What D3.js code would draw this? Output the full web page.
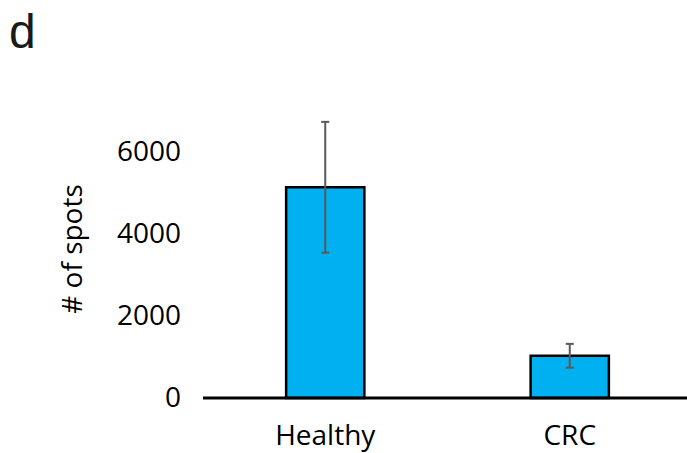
<!DOCTYPE html>
<html>
<head>
<meta charset="utf-8">
<script src="https://cdn.jsdelivr.net/npm/d3@7"></script>
<style>
  body { margin: 0; background: #fff; }
  text { font-family: "Open Sans", sans-serif; }
</style>
</head>
<body>
<svg id="chart" width="687" height="453"></svg>
<script>
// data
const categories = ["Healthy", "CRC"];
const values = [5140, 1030];
const errors = [1595, 290];
const yTicks = [0, 2000, 4000, 6000];

const svg = d3.select("#chart");

const x = d3.scaleBand()
            .domain(categories)
            .range([203, 692])
            .paddingInner(0.68)
            .paddingOuter(0.34);
const y = d3.scaleLinear()
            .domain([0, 7000])
            .range([398, 111]);

const data = categories.map((c, i) => ({cat: c, value: values[i], err: errors[i]}));

// panel letter
svg.append("text")
    .text("d")
    .attr("x", 9)
    .attr("y", 48)
    .style("font-family", "'Liberation Sans', Arial, sans-serif")
    .style("font-size", "48px")
    .style("fill", "#1a1a1a");

// y axis (labels only)
const yAxis = svg.append("g")
    .attr("transform", "translate(203,0)")
    .call(d3.axisLeft(y).tickValues(yTicks).tickSize(0).tickPadding(22).tickFormat(d3.format("d")));
yAxis.select(".domain").remove();
yAxis.selectAll("text")
    .style("font-family", "'Open Sans', sans-serif")
    .style("font-size", "28px")
    .style("fill", "#000");

svg.append("text")
    .text("# of spots")
    .attr("transform", "translate(82,249) rotate(-90)")
    .attr("text-anchor", "middle")
    .style("font-size", "28px")
    .style("fill", "#000");

// bars
svg.selectAll("rect.bar").data(data)
    .join("rect")
    .attr("class", "bar")
    .attr("x", d => x(d.cat))
    .attr("width", x.bandwidth())
    .attr("y", d => y(d.value))
    .attr("height", d => y(0) - y(d.value))
    .style("fill", "#00b0f0")
    .style("stroke", "#000")
    .style("stroke-width", 2.5);

// error bars
const eb = svg.selectAll("g.err").data(data)
    .join("g")
    .attr("class", "err")
    .attr("transform", d => `translate(${x(d.cat) + x.bandwidth() / 2},0)`);
eb.append("line")
    .attr("y1", d => y(d.value + d.err))
    .attr("y2", d => y(d.value - d.err));
eb.append("line")
    .attr("x1", -4).attr("x2", 4)
    .attr("y1", d => y(d.value + d.err))
    .attr("y2", d => y(d.value + d.err));
eb.append("line")
    .attr("x1", -4).attr("x2", 4)
    .attr("y1", d => y(d.value - d.err))
    .attr("y2", d => y(d.value - d.err));
eb.selectAll("line")
    .style("stroke", "#595959")
    .style("stroke-width", 2);

// x axis line
svg.append("line")
    .attr("x1", 203).attr("x2", 692)
    .attr("y1", y(0)).attr("y2", y(0))
    .style("stroke", "#000")
    .style("stroke-width", 3);

// category labels
svg.selectAll("text.cat").data(categories)
    .join("text")
    .attr("class", "cat")
    .text(d => d)
    .attr("x", d => x(d) + x.bandwidth() / 2)
    .attr("y", 445)
    .attr("text-anchor", "middle")
    .style("font-size", "28px")
    .style("fill", "#000");
</script>
</body>
</html>
